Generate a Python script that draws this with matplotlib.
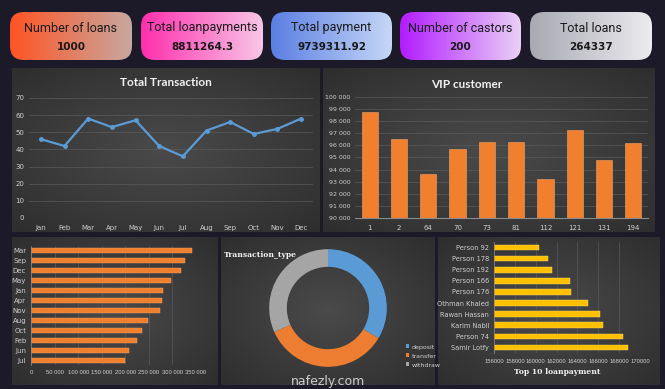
import numpy as np
import matplotlib
matplotlib.use("Agg")
import matplotlib.pyplot as plt
from matplotlib.patches import FancyBboxPatch
from matplotlib.colors import LinearSegmentedColormap

W, H = 665, 389

# ── data ──
card_titles = ["Number of loans", "Total loanpayments", "Total payment",
               "Number of castors", "Total loans"]
card_values = ["1000", "8811264.3", "9739311.92", "200", "264337"]

months = ["Jan", "Feb", "Mar", "Apr", "May", "Jun", "Jul", "Aug", "Sep",
          "Oct", "Nov", "Dec"]
transactions = [46, 42, 58, 53, 57, 42, 36, 51, 56, 49, 52, 58]

vip_ids = ["1", "2", "64", "70", "73", "81", "112", "121", "131", "194"]
vip_values = [98800, 96500, 93600, 95700, 96300, 96300, 93200, 97300, 94800, 96200]

month_rank = ["Mar", "Sep", "Dec", "May", "Jan", "Apr", "Nov", "Aug", "Oct",
              "Feb", "Jun", "Jul"]
month_totals = [342000, 327000, 318000, 298000, 281000, 278500, 274500,
                248000, 236000, 225500, 208500, 200000]

tx_types = ["deposit", "transfer", "withdraw"]
tx_counts = [336, 347, 317]

top_people = ["Person 92", "Person 178", "Person 192", "Person 166", "Person 176",
              "Othman Khaled", "Rawan Hassan", "Karim Nabil", "Person 74",
              "Samir Lotfy"]
top_payments = [160330, 161200, 161550, 163320, 163420, 165050, 166200,
                166500, 168330, 168810]

fig = plt.figure(figsize=(W / 100, H / 100), dpi=100)
fig.patch.set_facecolor("#1c1a29")


def px_axes(x0, y0, x1, y1, **kw):
    return fig.add_axes([x0 / W, 1 - y1 / H, (x1 - x0) / W, (y1 - y0) / H], **kw)


def panel(x0, y0, x1, y1):
    ax = px_axes(x0, y0, x1, y1)
    yy, xx = np.mgrid[-1:1:100j, -1:1:160j]
    r = np.sqrt(xx ** 2 + yy ** 2) / np.sqrt(2)
    cmap = LinearSegmentedColormap.from_list("p", ["#4a4a4a", "#2e2e2e"])
    ax.imshow(r, cmap=cmap, aspect="auto", extent=[0, 1, 0, 1], vmin=0, vmax=1)
    ax.axis("off")
    return ax


def style(ax, size=5):
    ax.set_facecolor("none")
    for s in ax.spines.values():
        s.set_visible(False)
    ax.tick_params(colors="#cfcfcf", labelsize=size, length=0)


def num(v):
    return f"{v:,}".replace(",", " ")


# ── KPI cards ──
card_x = [(10, 132), (141, 263), (271, 392), (400, 521), (530, 652)]
card_cols = [("#ff5424", "#c7a89f"), ("#ff2fae", "#f7c6e6"), ("#5a7fe2", "#c8d8f8"),
             ("#b21cff", "#ead0f6"), ("#a9a9b2", "#ececf0")]
for (x0, x1), (c0, c1), t, v in zip(card_x, card_cols, card_titles, card_values):
    w, h = x1 - x0, 48
    ax = px_axes(x0, 12, x1, 12 + h)
    ax.set_xlim(0, w)
    ax.set_ylim(0, h)
    ax.axis("off")
    cmap = LinearSegmentedColormap.from_list("c", [c0, c1])
    grad = np.linspace(0, 1, 200)[None, :]
    im = ax.imshow(grad, cmap=cmap, aspect="auto", extent=[0, w, 0, h])
    box = FancyBboxPatch((0, 0), w, h, boxstyle="round,pad=0,rounding_size=14",
                         facecolor="none", edgecolor="none", transform=ax.transData)
    ax.add_patch(box)
    im.set_clip_path(box)
    ax.text(w / 2, 32, t, ha="center", va="center", fontsize=9,
            family="Roboto", color="#1a1a1a")
    ax.text(w / 2, 13, v, ha="center", va="center", fontsize=7.5,
            family="DejaVu Sans", fontweight="bold", color="#1a1a1a")

# ── Total Transaction line ──
panel(12, 68, 320, 232)
ax = px_axes(29, 98, 313, 218)
style(ax, 5)
x = np.arange(len(months))
ax.plot(x, transactions, color="#5b9bd5", lw=1.6, marker="o", ms=2.5)
ax.set_xticks(x, months)
ax.set_xlim(-0.5, len(months) - 0.5)
ax.set_ylim(0, 70)
ax.set_yticks(range(0, 71, 10))
ax.grid(axis="y", color="#5a5a5a", lw=0.5)
ax.set_axisbelow(True)
ax.tick_params(axis="x", pad=5)
fig.text(166 / W, 1 - 82 / H, "Total Transaction", ha="center", va="center",
         fontsize=8.5, fontweight="bold", family="Lato", color="#f0f0f0")

# ── VIP customer bars ──
panel(323, 68, 655, 232)
ax = px_axes(355, 97, 648, 218)
style(ax, 4.5)
xv = np.arange(len(vip_ids))
ax.bar(xv, vip_values, width=0.55, color="#f07f2e", edgecolor="#f4a26a", lw=0.4)
ax.set_xticks(xv, vip_ids)
ax.set_xlim(-0.5, len(vip_ids) - 0.5)
ax.set_ylim(90000, 100000)
ax.set_yticks(range(90000, 100001, 1000))
ax.set_yticklabels([num(v) for v in range(90000, 100001, 1000)])
ax.grid(axis="y", color="#5a5a5a", lw=0.5)
ax.set_axisbelow(True)
ax.spines["bottom"].set_visible(True)
ax.spines["bottom"].set_color("#8a8a8a")
ax.tick_params(axis="x", pad=5, labelsize=5)
fig.text(467 / W, 1 - 84 / H, "VIP customer", ha="center", va="center",
         fontsize=8.5, fontweight="bold", family="Lato", color="#f0f0f0")

# ── months ranked ──
panel(12, 237, 218, 385)
ax = px_axes(31, 246, 196, 365)
style(ax, 4.2)
yb = np.arange(len(month_rank))
ax.barh(yb, month_totals, height=0.5, color="#f07f2e", edgecolor="#f4a26a", lw=0.3)
ax.set_yticks(yb, month_rank)
ax.set_ylim(len(month_rank) - 0.5, -0.5)
ax.set_xlim(0, 350000)
ax.set_xticks(range(0, 350001, 50000))
ax.set_xticklabels([num(v) for v in range(0, 350001, 50000)], family="Liberation Sans")
ax.tick_params(axis="y", labelsize=5)
ax.grid(axis="x", color="#5a5a5a", lw=0.5)
ax.set_axisbelow(True)
ax.spines["left"].set_visible(True)
ax.spines["left"].set_color("#8a8a8a")
ax.spines["left"].set_linewidth(0.5)

# ── Transaction_type donut ──
panel(221, 237, 435, 385)
ax = px_axes(268, 248, 388, 368)
wedges, _ = ax.pie(tx_counts, colors=["#5b9bd5", "#ed7d31", "#a5a5a5"],
                   startangle=90, counterclock=False, radius=1,
                   wedgeprops=dict(width=0.3, edgecolor="none"))
ax.set_xlim(-1.02, 1.02)
ax.set_ylim(-1.02, 1.02)
ax.set_aspect("equal")
fig.text(224 / W, 1 - 255 / H, "Transaction_type", ha="left", va="center",
         fontsize=5.5, fontweight="bold", family="DejaVu Serif", color="#f0f0f0")
leg = fig.legend(wedges, tx_types, loc="center left",
                 bbox_to_anchor=(400 / W, 1 - 356 / H), frameon=False,
                 fontsize=4.5, handlelength=0.6, handleheight=0.6,
                 labelspacing=0.6, handletextpad=0.4)
for t in leg.get_texts():
    t.set_color("#d0d0d0")

# ── Top 10 loanpayment ──
panel(438, 237, 660, 385)
ax = px_axes(494, 242, 640, 353)
style(ax, 4.8)
yp = np.arange(len(top_people))
ax.barh(yp, top_payments, height=0.5, color="#ffc000", edgecolor="#ffd966", lw=0.3)
ax.set_yticks(yp, top_people)
ax.set_ylim(len(top_people) - 0.5, -0.5)
ax.set_xlim(156000, 170000)
ax.set_xticks(range(156000, 170001, 2000))
ax.set_xticklabels([str(v) for v in range(156000, 170001, 2000)],
                   family="Liberation Sans", fontsize=4.2)
ax.grid(axis="x", color="#5a5a5a", lw=0.5)
ax.set_axisbelow(True)
ax.spines["left"].set_visible(True)
ax.spines["left"].set_color("#8a8a8a")
ax.spines["left"].set_linewidth(0.5)
ax.tick_params(axis="x", pad=4)
fig.text(557 / W, 1 - 372 / H, "Top 10 loanpayment", ha="center", va="center",
         fontsize=5.5, fontweight="bold", family="DejaVu Serif", color="#f0f0f0")

# watermark
fig.text(328 / W, 1 - 381 / H, "nafezly.com", ha="center", va="center",
         fontsize=9, color="#e8e8e8", alpha=0.85)

fig.savefig("out.png", dpi=100, facecolor=fig.get_facecolor())
